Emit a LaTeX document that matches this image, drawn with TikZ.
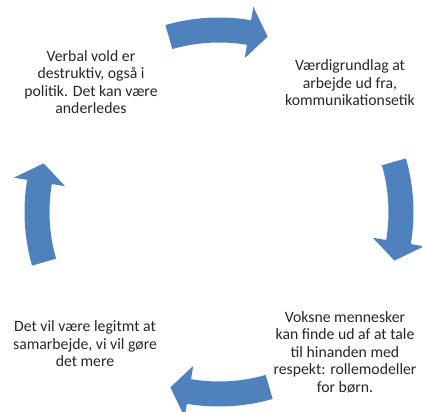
\documentclass[tikz,border=0pt]{standalone}
\usepackage{fontspec}
\setmainfont{Carlito}
\usetikzlibrary{calc}
\definecolor{cycleblue}{HTML}{4F81BD}
\tikzset{
  steptext/.style={align=center, text=black!85, font=\fontsize{11.2}{12.5}\selectfont},
  cyclearrow/.style={fill=cycleblue, draw=none}
}

\begin{document}
\begin{tikzpicture}[x=0.025cm, y=0.025cm]
\useasboundingbox (0,0) rectangle (422,412);
\clip (0,0) rectangle (422,412);
\coordinate (c) at (219,200);
% curved block arrows, clockwise
\foreach \a in {90,0,-90,180} {
 \fill[cyclearrow] ($(c)+(\a+16:194.5)$) arc[start angle=\a+16, end angle=\a-9.5, radius=194.5]
   -- ($(c)+(\a-9.5:208)$) -- ($(c)+(\a-15.5:182)$) -- ($(c)+(\a-9.5:156)$)
   -- ($(c)+(\a-9.5:169.5)$) arc[start angle=\a-9.5, end angle=\a+16, radius=169.5] -- cycle;
}
% texts
\node[steptext] (verbal) at (91,330) {Verbal vold er\\destruktiv, også i\\politik. Det kan være\\anderledes};
\node[steptext] (vaerdi) at (350,329) {Værdigrundlag at\\arbejde ud fra,\\kommunikationsetik};
\node[steptext] (voksne) at (345,60) {Voksne mennesker\\kan finde ud af at tale\\til hinanden med\\respekt: rollemodeller\\for børn.};
\node[steptext] (legitim) at (85,68) {Det vil være legitmt at\\samarbejde, vi vil gøre\\det mere};
\end{tikzpicture}
\end{document}
